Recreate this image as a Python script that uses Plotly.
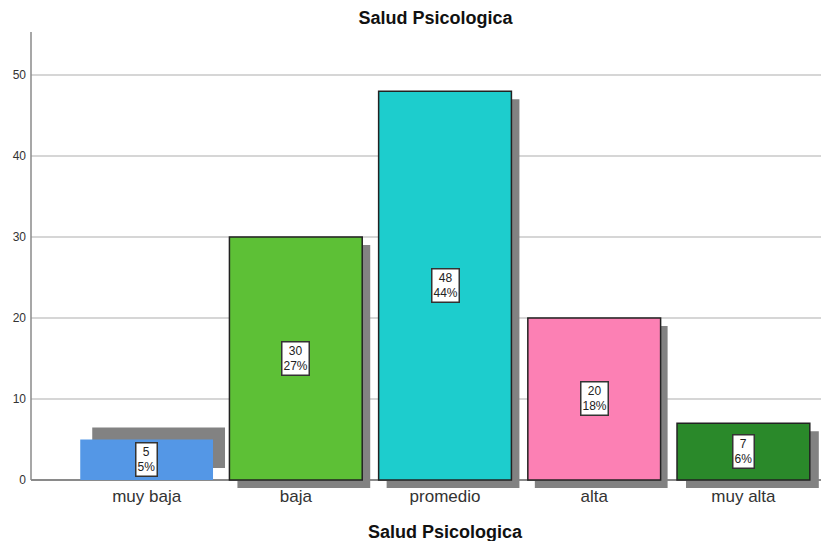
import plotly.graph_objects as go

# Frequencies of the psychological-health levels
categories = ["muy baja", "baja", "promedio", "alta", "muy alta"]
counts = [5, 30, 48, 20, 7]
y_ticks = [0, 10, 20, 30, 40, 50]

bar_colors = ["#5497E6", "#5DC036", "#1DCDCD", "#FC80B4", "#2A892A"]
bar_lines = [0, 1.5, 1.5, 1.5, 1.5]
# drop-shadow offsets in pixels (right, down)
shadow_dx = [12, 8, 8, 7, 9]
shadow_dy = [-12, 8, 8, 8, 8]

W, H = 821, 541
L, R, T = 31, 0, 32
x_range = [-0.775, 4.52]
y_max = 55.3
bar_w = 0.89
FONT = "Liberation Sans, Arial"

plot_w = W - L - R
px_per_cat = plot_w / (x_range[1] - x_range[0])
# keep zero at y=480 with an 8px band below it for the shadows
zero_px = 480
px_per_unit = (zero_px - T) / y_max
y_min = -8 / px_per_unit
B = H - (T + (y_max - y_min) * px_per_unit)

total = sum(counts)
pct = [round(c / total * 100) for c in counts]

fig = go.Figure()

# shadows
fig.add_trace(go.Bar(
    x=categories,
    y=counts,
    base=[-dy / px_per_unit for dy in shadow_dy],
    width=bar_w,
    offset=[-bar_w / 2 + dx / px_per_cat for dx in shadow_dx],
    marker=dict(color="#828282", line=dict(width=0)),
    hoverinfo="skip",
    showlegend=False,
))

# bars
fig.add_trace(go.Bar(
    x=categories,
    y=counts,
    width=bar_w,
    offset=-bar_w / 2,
    marker=dict(color=bar_colors, line=dict(color="#222222", width=bar_lines)),
    showlegend=False,
))

for cat, c, p in zip(categories, counts, pct):
    fig.add_annotation(
        x=cat, y=c / 2, xref="x", yref="y",
        text=f"{c}<br>{p}%", showarrow=False,
        font=dict(family=FONT, size=12, color="#222222"),
        bgcolor="white", bordercolor="#333333", borderwidth=1.5, borderpad=1,
    )

# y axis line
fig.add_shape(type="line", xref="paper", yref="y", x0=0, x1=0, y0=0, y1=y_max,
              line=dict(color="#8a8a8a", width=1.5))

fig.add_annotation(
    text="<b>Salud Psicologica</b>", xref="paper", yref="paper",
    x=(445 - L) / plot_w, y=0, yshift=-(532 - (H - B)), showarrow=False,
    font=dict(family=FONT, size=18, color="#111111"),
    yanchor="middle",
)

fig.update_layout(
    width=W, height=H,
    margin=dict(l=L, r=R, t=T, b=B),
    paper_bgcolor="white", plot_bgcolor="white",
    barmode="overlay",
    title=dict(text="<b>Salud Psicologica</b>", x=435.5 / W, xanchor="center",
               y=1 - 18 / H, yanchor="middle",
               font=dict(family=FONT, size=18, color="#111111")),
    xaxis=dict(range=x_range, showgrid=False, showline=False, ticks="",
               ticklabelstandoff=-4,
               tickfont=dict(family=FONT, size=17, color="#333333")),
    yaxis=dict(range=[y_min, y_max], tickvals=y_ticks, showgrid=True,
               gridcolor="#d6d6d6", gridwidth=1.5, zeroline=True,
               zerolinecolor="#8a8a8a", zerolinewidth=1.5, showline=False,
               ticks="", ticklabelstandoff=4,
               tickfont=dict(family=FONT, size=12, color="#333333")),
)

fig.write_html("out.html")
